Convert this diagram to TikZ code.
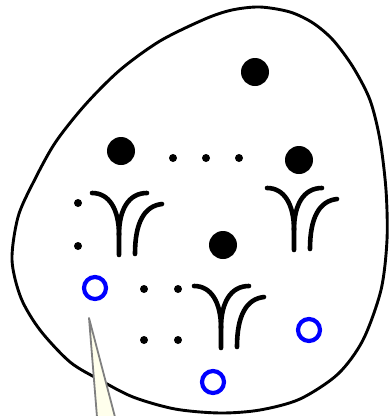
\documentclass[tikz,border=0pt]{standalone}
\usetikzlibrary{calc}
\definecolor{calloutfill}{RGB}{255,255,236}
\definecolor{ringblue}{RGB}{0,0,255}
\tikzset{
  x=1pt, y=-1pt,
  bigdot/.style={circle, fill=black, inner sep=0pt, minimum size=28pt},
  smalldot/.style={circle, fill=black, inner sep=0pt, minimum size=8pt},
  ring/.style={circle, draw=ringblue, line width=4.2pt, inner sep=0pt, minimum size=22pt},
  egg/.style={draw=black, line width=2.9pt},
  glassline/.style={line width=4.6pt, line cap=round},
  glass/.pic={
    \draw[glassline] (-27,-62) .. controls (-10,-62) and (0,-46) .. (0,-20) -- (0,0);
    \draw[glassline] (28,-62) .. controls (10,-62) and (0,-46) .. (0,-20);
    \draw[glassline] (43,-51) .. controls (25,-49) and (16,-32) .. (16,-1);
  }
}
\begin{document}
\begin{tikzpicture}
\useasboundingbox (0,0) rectangle (390,416);
% egg outline
\draw[egg] plot[smooth cycle, tension=0.5] coordinates {
  (260,7) (290,12) (313,23) (333,40) (353,67) (370,100) (380,140) (386,190)
  (387,240) (381,290) (363,340) (338,374) (300,399) (260,410) (220,413)
  (175,409) (133,397) (100,380) (70,362) (40,330) (21,298) (12,260)
  (18,217) (33,183) (55,143) (85,105) (120,70) (160,41) (205,19) (232,10)};
% big dots
\node[bigdot] (b1) at (255,72) {};
\node[bigdot] (b2) at (121,151) {};
\node[bigdot] (b3) at (299,160) {};
\node[bigdot] (b4) at (223,245) {};
% small dots
\node[smalldot] (s1) at (173,158) {};
\node[smalldot] (s2) at (206,158) {};
\node[smalldot] (s3) at (239,158) {};
\node[smalldot] (s4) at (78,203) {};
\node[smalldot] (s5) at (78,246) {};
\node[smalldot] (s6) at (144,289) {};
\node[smalldot] (s7) at (178,289) {};
\node[smalldot] (s8) at (144,340) {};
\node[smalldot] (s9) at (178,340) {};
% blue rings
\node[ring] (r1) at (95,288) {};
\node[ring] (r2) at (309,330) {};
\node[ring] (r3) at (213,382) {};
% glass symbols
\pic at (119,255) {glass};
\pic at (294,250) {glass};
\pic at (221,348) {glass};
% callout
\coordinate (tip) at (89,318);
\coordinate (cl) at (97,417);
\coordinate (cr) at (115,417);
\fill[calloutfill] (tip) -- (cl) -- (cr) -- cycle;
\draw[gray, line width=1.8pt, line join=round] (cl) -- (tip) -- (cr);
\end{tikzpicture}
\end{document}
